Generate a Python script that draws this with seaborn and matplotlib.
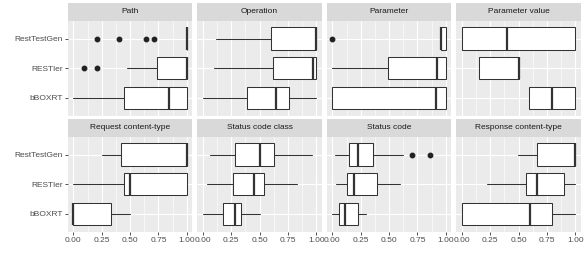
import matplotlib
matplotlib.use("Agg")
import matplotlib.pyplot as plt
from matplotlib.patches import Rectangle
import seaborn as sns

sns.set_theme(style="darkgrid")
plt.rcParams["font.family"] = ["Liberation Sans", "DejaVu Sans"]

# ── data: five-number summaries ──
METRICS = ["Path", "Operation", "Parameter", "Parameter value",
           "Request content-type", "Status code class", "Status code",
           "Response content-type"]
TOOLS = ["RestTestGen", "RESTler", "bBOXRT"]   # top to bottom

# each row: values for RestTestGen, RESTler, bBOXRT
WHISLO = [[1.00, 0.47, 0.00], [0.115, 0.10, 0.00], [0.955, 0.00, 0.00], [0.00, 0.147, 0.594],
          [0.253, 0.00, 0.00], [0.06, 0.035, 0.00], [0.024, 0.033, 0.00], [0.497, 0.223, 0.00]]
Q1 = [[1.00, 0.735, 0.45], [0.60, 0.62, 0.39], [0.955, 0.49, 0.00], [0.00, 0.147, 0.594],
      [0.42, 0.45, 0.00], [0.285, 0.27, 0.18], [0.147, 0.127, 0.059], [0.66, 0.57, 0.00]]
MED = [[1.00, 1.00, 0.84], [1.00, 0.975, 0.645], [0.96, 0.92, 0.915], [0.40, 0.50, 0.794],
       [1.00, 0.50, 0.00], [0.50, 0.455, 0.285], [0.224, 0.194, 0.109], [1.00, 0.66, 0.60]]
Q3 = [[1.00, 1.00, 1.00], [1.00, 1.00, 0.76], [1.00, 1.00, 1.00], [1.00, 0.50, 1.00],
      [1.00, 1.00, 0.333], [0.625, 0.535, 0.335], [0.36, 0.394, 0.224], [1.00, 0.897, 0.794]]
WHISHI = [[1.00, 1.00, 1.00], [1.00, 1.00, 1.00], [1.00, 1.00, 1.00], [1.00, 0.50, 1.00],
          [1.00, 1.00, 0.50], [0.967, 0.83, 0.50], [0.62, 0.595, 0.297], [1.00, 1.00, 1.00]]
FLIERS = {
    ("Path", "RestTestGen"): [0.205, 0.40, 0.64, 0.71],
    ("Path", "RESTler"): [0.09, 0.205],
    ("Parameter", "RestTestGen"): [0.0],
    ("Status code", "RestTestGen"): [0.706, 0.865],
}

XTICKS = [0, 0.25, 0.5, 0.75, 1.0]
XTICKLABELS = ["0.00", "0.25", "0.50", "0.75", "1.00"]

# ── layout in pixels (ggplot-like facet grid) ──
W, H = 585, 260
fig = plt.figure(figsize=(W / 100, H / 100), dpi=100)
fig.patch.set_facecolor("white")

col_left = [67.7, 197.2, 326.7, 456.2]
panel_w = 124.7
row_bottom = [115.8, 231.8]
panel_h = 95.0
strip_h = 18.0

GREY20 = "#333333"
for i, metric in enumerate(METRICS):
    r, c = divmod(i, 4)
    ax = fig.add_axes([col_left[c] / W, 1 - row_bottom[r] / H, panel_w / W, panel_h / H])
    ax.set_facecolor("#EBEBEB")

    stats = []
    for j, tool in enumerate(TOOLS):
        stats.append({
            "med": MED[i][j], "q1": Q1[i][j], "q3": Q3[i][j],
            "whislo": WHISLO[i][j], "whishi": WHISHI[i][j],
            "fliers": FLIERS.get((metric, tool), []),
        })
    positions = [3, 2, 1]
    ax.bxp(stats, positions=positions, vert=False, widths=0.75, showcaps=False,
           patch_artist=True,
           boxprops=dict(facecolor="white", edgecolor=GREY20, linewidth=0.75),
           whiskerprops=dict(color=GREY20, linewidth=0.75),
           medianprops=dict(color=GREY20, linewidth=1.6, solid_capstyle="butt"),
           flierprops=dict(marker="o", markersize=3.2, markerfacecolor="#222222",
                           markeredgecolor="#222222", linestyle="none"),
           zorder=3)

    ax.set_xlim(-0.05, 1.05)
    ax.set_ylim(0.4, 3.6)
    ax.set_xticks(XTICKS)
    ax.set_xticks([0.125, 0.375, 0.625, 0.875], minor=True)
    ax.set_yticks(positions)
    ax.grid(which="major", color="white", linewidth=0.8)
    ax.grid(which="minor", axis="x", color="white", linewidth=0.4)
    ax.set_axisbelow(True)
    for s in ax.spines.values():
        s.set_visible(False)

    ax.tick_params(axis="both", which="major", length=2.2, width=0.6, color=GREY20,
                   labelsize=6, labelcolor="#4D4D4D", pad=1.5,
                   bottom=(r == 1), left=(c == 0))
    ax.tick_params(which="minor", length=0)
    ax.set_yticklabels(TOOLS if c == 0 else [])
    ax.set_xticklabels(XTICKLABELS if r == 1 else [])

    # facet strip
    frac = strip_h / panel_h
    ax.add_patch(Rectangle((0, 1), 1, frac, transform=ax.transAxes,
                           facecolor="#D9D9D9", edgecolor="none", clip_on=False))
    ax.text(0.5, 1 + frac / 2, metric, transform=ax.transAxes, ha="center",
            va="center", fontsize=6, color="#1A1A1A")

fig.savefig("out.png", dpi=100)
